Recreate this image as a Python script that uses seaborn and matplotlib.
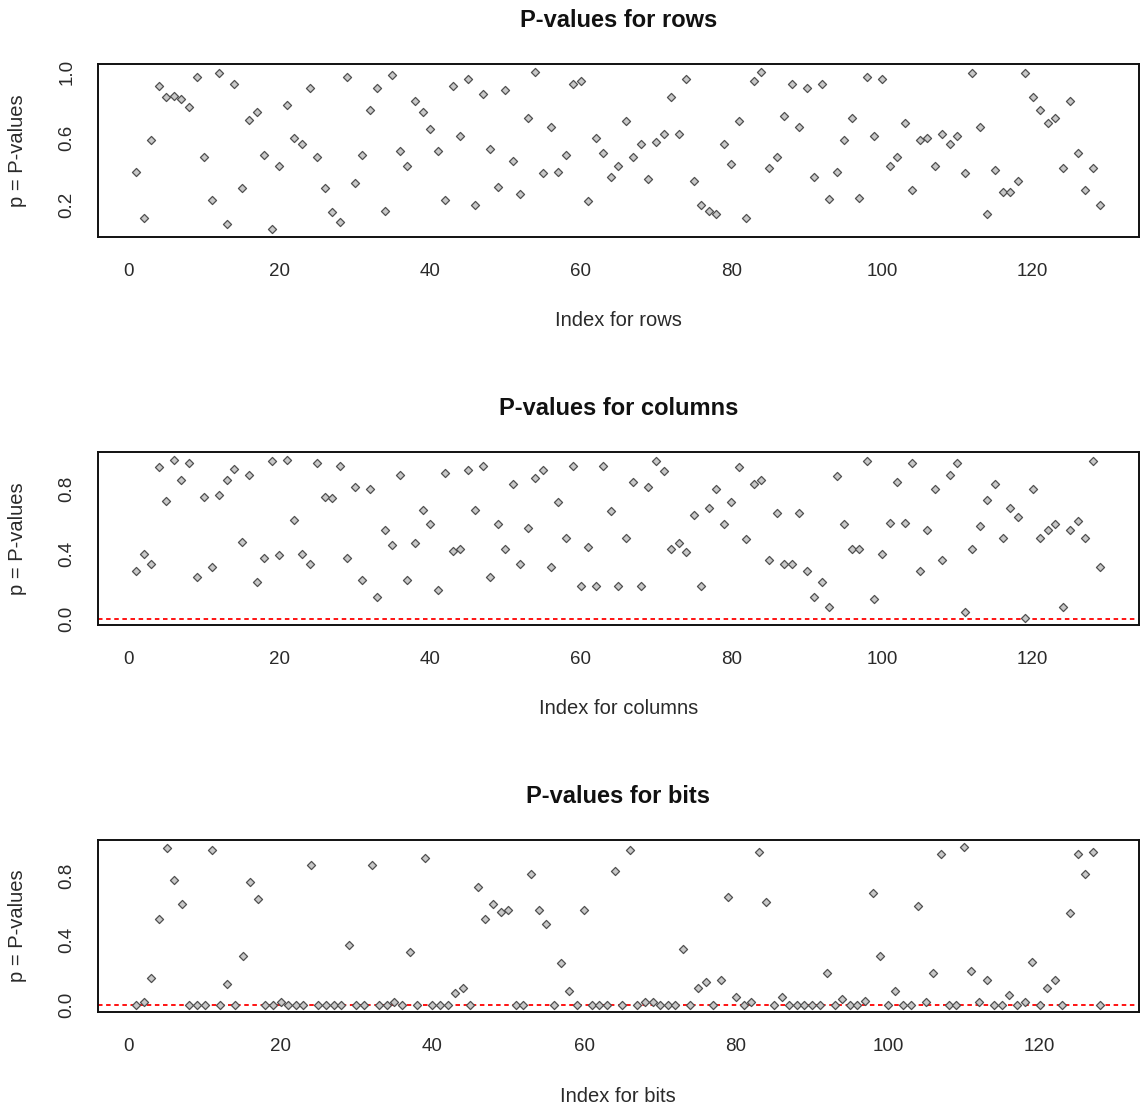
import numpy as np
import pandas as pd
import matplotlib
matplotlib.use("Agg")
import matplotlib.pyplot as plt
import matplotlib.transforms as mtransforms
import seaborn as sns

# ---------------- data ----------------
rows_p = [0.40, 0.12, 0.59, 0.912, 0.846, 0.856, 0.834, 0.79, 0.968, 0.488,
          0.232, 0.99, 0.088, 0.924, 0.30, 0.712, 0.756, 0.50, 0.054, 0.434,
          0.80, 0.60, 0.568, 0.902, 0.49, 0.30, 0.156, 0.10, 0.968, 0.334,
          0.50, 0.768, 0.902, 0.166, 0.98, 0.522, 0.434, 0.824, 0.756, 0.656,
          0.522, 0.232, 0.912, 0.612, 0.958, 0.198, 0.868, 0.534, 0.31, 0.89,
          0.466, 0.266, 0.724, 0.998, 0.39, 0.668, 0.40, 0.50, 0.924, 0.946,
          0.222, 0.602, 0.512, 0.366, 0.434, 0.702, 0.49, 0.568, 0.356, 0.578,
          0.624, 0.846, 0.624, 0.958, 0.344, 0.20, 0.166, 0.144, 0.568, 0.446,
          0.702, 0.122, 0.946, 0.998, 0.422, 0.49, 0.734, 0.924, 0.668, 0.902,
          0.366, 0.924, 0.234, 0.40, 0.59, 0.724, 0.244, 0.968, 0.612, 0.958,
          0.434, 0.49, 0.69, 0.29, 0.59, 0.602, 0.434, 0.624, 0.568, 0.612,
          0.39, 0.99, 0.668, 0.144, 0.412, 0.278, 0.278, 0.344, 0.99, 0.846,
          0.768, 0.69, 0.724, 0.422, 0.824, 0.512, 0.29, 0.422, 0.20]

cols_p = [0.295, 0.40, 0.34, 0.93, 0.725, 0.976, 0.85, 0.954, 0.26, 0.75,
          0.32, 0.76, 0.85, 0.92, 0.47, 0.885, 0.23, 0.375, 0.965, 0.39,
          0.976, 0.61, 0.40, 0.34, 0.954, 0.75, 0.74, 0.94, 0.375, 0.81,
          0.24, 0.795, 0.136, 0.544, 0.454, 0.885, 0.24, 0.467, 0.67, 0.58,
          0.18, 0.897, 0.42, 0.43, 0.91, 0.67, 0.94, 0.26, 0.58, 0.43,
          0.83, 0.34, 0.556, 0.862, 0.91, 0.32, 0.716, 0.50, 0.94, 0.204,
          0.44, 0.204, 0.94, 0.66, 0.204, 0.50, 0.84, 0.204, 0.81, 0.965,
          0.907, 0.43, 0.467, 0.41, 0.636, 0.204, 0.68, 0.795, 0.58, 0.716,
          0.93, 0.49, 0.83, 0.85, 0.363, 0.648, 0.34, 0.34, 0.648, 0.295,
          0.136, 0.228, 0.077, 0.875, 0.58, 0.43, 0.43, 0.965, 0.124, 0.40,
          0.59, 0.84, 0.59, 0.954, 0.295, 0.544, 0.795, 0.363, 0.885, 0.954,
          0.045, 0.43, 0.57, 0.73, 0.83, 0.50, 0.68, 0.626, 0.01, 0.795,
          0.50, 0.544, 0.58, 0.077, 0.544, 0.60, 0.50, 0.965, 0.32]

bits_p = [0.0, 0.015, 0.164, 0.534, 0.974, 0.777, 0.627, 0.0, 0.0, 0.0,
          0.962, 0.0, 0.129, 0.0, 0.303, 0.764, 0.66, 0.0, 0.0, 0.015,
          0.0, 0.0, 0.0, 0.87, 0.0, 0.0, 0.0, 0.0, 0.372, 0.0,
          0.0, 0.87, 0.0, 0.0, 0.015, 0.0, 0.326, 0.0, 0.916, 0.0,
          0.0, 0.0, 0.07, 0.106, 0.0, 0.731, 0.534, 0.627, 0.579, 0.592,
          0.0, 0.0, 0.812, 0.592, 0.50, 0.0, 0.258, 0.083, 0.0, 0.592,
          0.0, 0.0, 0.0, 0.835, 0.0, 0.962, 0.0, 0.015, 0.015, 0.0,
          0.0, 0.0, 0.349, 0.0, 0.106, 0.141, 0.0, 0.152, 0.673, 0.048,
          0.0, 0.015, 0.951, 0.638, 0.0, 0.048, 0.0, 0.0, 0.0, 0.0,
          0.0, 0.2, 0.0, 0.037, 0.0, 0.0, 0.025, 0.696, 0.303, 0.0,
          0.083, 0.0, 0.0, 0.617, 0.015, 0.2, 0.939, 0.0, 0.0, 0.984,
          0.21, 0.015, 0.152, 0.0, 0.0, 0.06, 0.0, 0.015, 0.268, 0.0,
          0.106, 0.152, 0.0, 0.569, 0.939, 0.812, 0.951, 0.0]

titles = ["P-values for rows", "P-values for columns", "P-values for bits"]
xlabels = ["Index for rows", "Index for columns", "Index for bits"]
ylabel = "p = P-values"
threshold = 0.0
x_ticks = [0, 20, 40, 60, 80, 100, 120]

# ---------------- style ----------------
sns.set_theme(style="white")
plt.rcParams["font.family"] = ["Liberation Sans", "DejaVu Sans"]
TXT = "#2a2a2a"

W, H = 1140, 1109
fig = plt.figure(figsize=(W / 100, H / 100), dpi=100)

# axes boxes in pixels: (left, top, right, bottom)
boxes = [(97.7, 64.3, 1139, 236.7),
         (97.7, 452.3, 1139, 625.0),
         (97.7, 840.3, 1139, 1012.0)]
ylims = [(0.01, 1.044), (-0.035, 1.021), (-0.046, 1.024)]
ytick_sets = [([0.2, 0.4, 0.6, 0.8, 1.0], ["0.2", "", "0.6", "", "1.0"]),
              ([0.0, 0.2, 0.4, 0.6, 0.8, 1.0], ["0.0", "", "0.4", "", "0.8", ""]),
              ([0.0, 0.2, 0.4, 0.6, 0.8, 1.0], ["0.0", "", "0.4", "", "0.8", ""])]

series = [rows_p, cols_p, bits_p]
for k, vals in enumerate(series):
    l, t, r, b = boxes[k]
    ax = fig.add_axes([l / W, 1 - b / H, (r - l) / W, (b - t) / H])
    n = len(vals)
    df = pd.DataFrame({"index": np.arange(1, n + 1), "p": vals})
    if k > 0:
        ax.axhline(threshold, color="red", linestyle=(0, (2.5, 2.0)),
                   linewidth=1.3, zorder=1)
    sns.scatterplot(data=df, x="index", y="p", ax=ax, marker="D", s=17,
                    color="#c8c8c8", edgecolor="#505050", linewidth=0.9,
                    zorder=3, legend=False)
    ax.set_xlim(1 - 0.04 * (n - 1), n + 0.04 * (n - 1))
    ax.set_ylim(*ylims[k])
    ax.set_xticks(x_ticks)
    ax.set_xticklabels([str(v) for v in x_ticks])
    ax.set_yticks(ytick_sets[k][0])
    ax.set_yticklabels(ytick_sets[k][1])
    for s in ax.spines.values():
        s.set_color("#111111")
        s.set_linewidth(1.4)
    ax.tick_params(axis="both", direction="out", length=6, width=1.0,
                   color="#111111", labelsize=13.5, labelcolor=TXT)
    ax.tick_params(axis="x", pad=13)
    ax.tick_params(axis="y", pad=10, labelrotation=90)
    for lab in ax.get_yticklabels():
        lab.set_va("center")
    ax.set_xlabel("")
    ax.set_ylabel("")
    # title
    tr = mtransforms.offset_copy(ax.transAxes, fig=fig, x=0, y=44, units="dots")
    ax.text(0.5, 1.0, titles[k], transform=tr, ha="center", va="center",
            fontsize=17, fontweight="bold", color="#111111")
    # x label
    trx = mtransforms.offset_copy(ax.transAxes, fig=fig, x=0, y=-84, units="dots")
    ax.text(0.5, 0.0, xlabels[k], transform=trx, ha="center", va="center",
            fontsize=14.5, color=TXT)
    # y label
    try_ = mtransforms.offset_copy(ax.transAxes, fig=fig, x=-80, y=0, units="dots")
    ax.text(0.0, 0.5, ylabel, transform=try_, ha="center", va="center",
            rotation=90, fontsize=14.5, color=TXT)

fig.savefig("out.png", dpi=100)
